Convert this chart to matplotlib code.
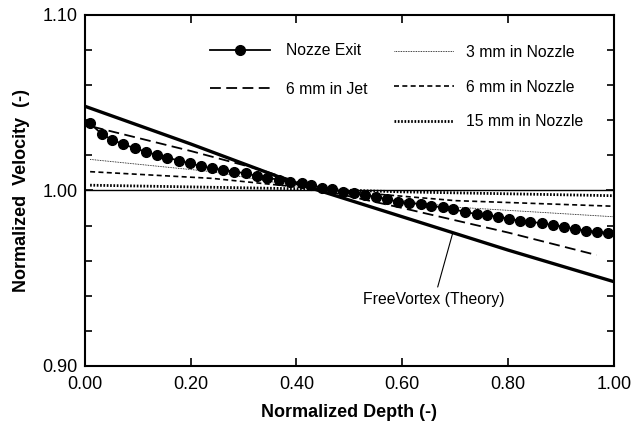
import matplotlib
matplotlib.use("Agg")
import matplotlib.pyplot as plt
from matplotlib.ticker import MultipleLocator, FixedLocator

plt.rcParams['font.family'] = ['Liberation Sans', 'DejaVu Sans']

# Free vortex (theory)
fv_x = [0.0, 0.2, 0.4, 0.6, 0.8, 1.0]
fv_y = [1.048, 1.0265, 1.004, 0.985, 0.966, 0.948]

# Nozzle exit (markers)
ne_x = [0.0095, 0.032, 0.052, 0.073, 0.095, 0.115, 0.136, 0.156, 0.178, 0.198,
        0.219, 0.241, 0.262, 0.282, 0.304, 0.325, 0.345, 0.367, 0.388,
        0.410, 0.427, 0.448, 0.468, 0.488, 0.509, 0.529, 0.550, 0.571, 0.592,
        0.613, 0.635, 0.655, 0.676, 0.696, 0.718,
        0.741, 0.760, 0.781, 0.802, 0.822, 0.842, 0.863, 0.885, 0.905, 0.926,
        0.947, 0.968, 0.989]
ne_y = [1.0383, 1.0322, 1.0288, 1.0263, 1.0240, 1.0221, 1.0202, 1.0187, 1.0170, 1.0155,
        1.0139, 1.0126, 1.0117, 1.0107, 1.0098, 1.0082, 1.0073, 1.0060, 1.0050,
        1.0041, 1.0031, 1.0016, 1.0006, 0.9993, 0.9984, 0.9974, 0.9964, 0.9949, 0.9936,
        0.9930, 0.9921, 0.9911, 0.9904, 0.9892, 0.9879,
        0.9864, 0.9860, 0.9850, 0.9839, 0.9827, 0.9822, 0.9813, 0.9803, 0.9793, 0.9780,
        0.9771, 0.9765, 0.9759]

# 6 mm in Jet
jet_x = [0.015, 0.2, 0.33, 0.45, 0.6, 0.8, 0.967]
jet_y = [1.0363, 1.0225, 1.012, 1.0, 0.990, 0.976, 0.9632]

# 3 mm in Nozzle
n3_x = [0.01, 0.24, 0.45, 0.7, 1.0]
n3_y = [1.0177, 1.0107, 1.000, 0.9905, 0.985]

# 6 mm in Nozzle
n6_x = [0.01, 0.24, 0.45, 0.7, 1.0]
n6_y = [1.0107, 1.0069, 1.0005, 0.9942, 0.991]

# 15 mm in Nozzle
n15_x = [0.01, 0.4, 0.6, 1.0]
n15_y = [1.0030, 1.0010, 0.9992, 0.997]

fig = plt.figure(figsize=(6.33, 4.28), dpi=100)
ax = fig.add_axes([0.134, 0.145, 0.836, 0.820])

ax.axhline(1.0, color='black', lw=1.0, zorder=1)

l_fv, = ax.plot(fv_x, fv_y, color='black', lw=2.4, solid_capstyle='butt')
l_ne, = ax.plot(ne_x, ne_y, color='black', lw=1.3, marker='o', markersize=7,
                label='Nozze Exit')
l_jet, = ax.plot(jet_x, jet_y, color='black', lw=1.3, linestyle=(0, (6, 3)),
                 label='6 mm in Jet')
l_n3, = ax.plot(n3_x, n3_y, color='black', lw=0.6, linestyle=(0, (1, 1)),
                label='3 mm in Nozzle')
l_n6, = ax.plot(n6_x, n6_y, color='black', lw=1.2, linestyle=(0, (3, 2)),
                label='6 mm in Nozzle')
l_n15, = ax.plot(n15_x, n15_y, color='black', lw=2.0, linestyle=(0, (0.6, 0.6)),
                 label='15 mm in Nozzle')

ax.set_xlim(0, 1.0)
ax.set_ylim(0.90, 1.10)
ax.xaxis.set_major_locator(MultipleLocator(0.2))
ax.yaxis.set_major_locator(FixedLocator([0.90, 1.00, 1.10]))
ax.yaxis.set_minor_locator(MultipleLocator(0.02))
ax.set_xticklabels([f"{v:.2f}" for v in ax.get_xticks()])
ax.set_yticklabels(["0.90", "1.00", "1.10"])
ax.tick_params(which='both', direction='in', top=True, right=True, labelsize=13,
               width=1.2)
ax.tick_params(which='major', length=6)
ax.tick_params(which='minor', length=5)
ax.tick_params(axis='x', pad=7)
ax.tick_params(axis='y', pad=5)
for s in ax.spines.values():
    s.set_linewidth(1.5)

ax.set_xlabel('Normalized Depth (-)', fontsize=13, fontweight='bold', labelpad=8)
ax.set_ylabel('Normalized  Velocity  (-)', fontsize=13, fontweight='bold', labelpad=9)

leg1 = ax.legend(handles=[l_ne, l_jet], loc='upper left',
                 bbox_to_anchor=(0.21, 0.96), frameon=False, fontsize=11.3,
                 handlelength=3.8, labelspacing=1.5, handletextpad=1.05)
ax.add_artist(leg1)
ax.legend(handles=[l_n3, l_n6, l_n15], loc='upper left',
          bbox_to_anchor=(0.558, 0.955), frameon=False, fontsize=11.3,
          handlelength=3.8, labelspacing=1.25, handletextpad=0.8)

ax.annotate('FreeVortex (Theory)', xy=(0.695, 0.9755), xytext=(0.66, 0.9376),
            ha='center', va='center', fontsize=11.3,
            arrowprops=dict(arrowstyle='-', color='black', lw=0.8, shrinkA=2, shrinkB=0))

fig.savefig('out.png', dpi=100)
